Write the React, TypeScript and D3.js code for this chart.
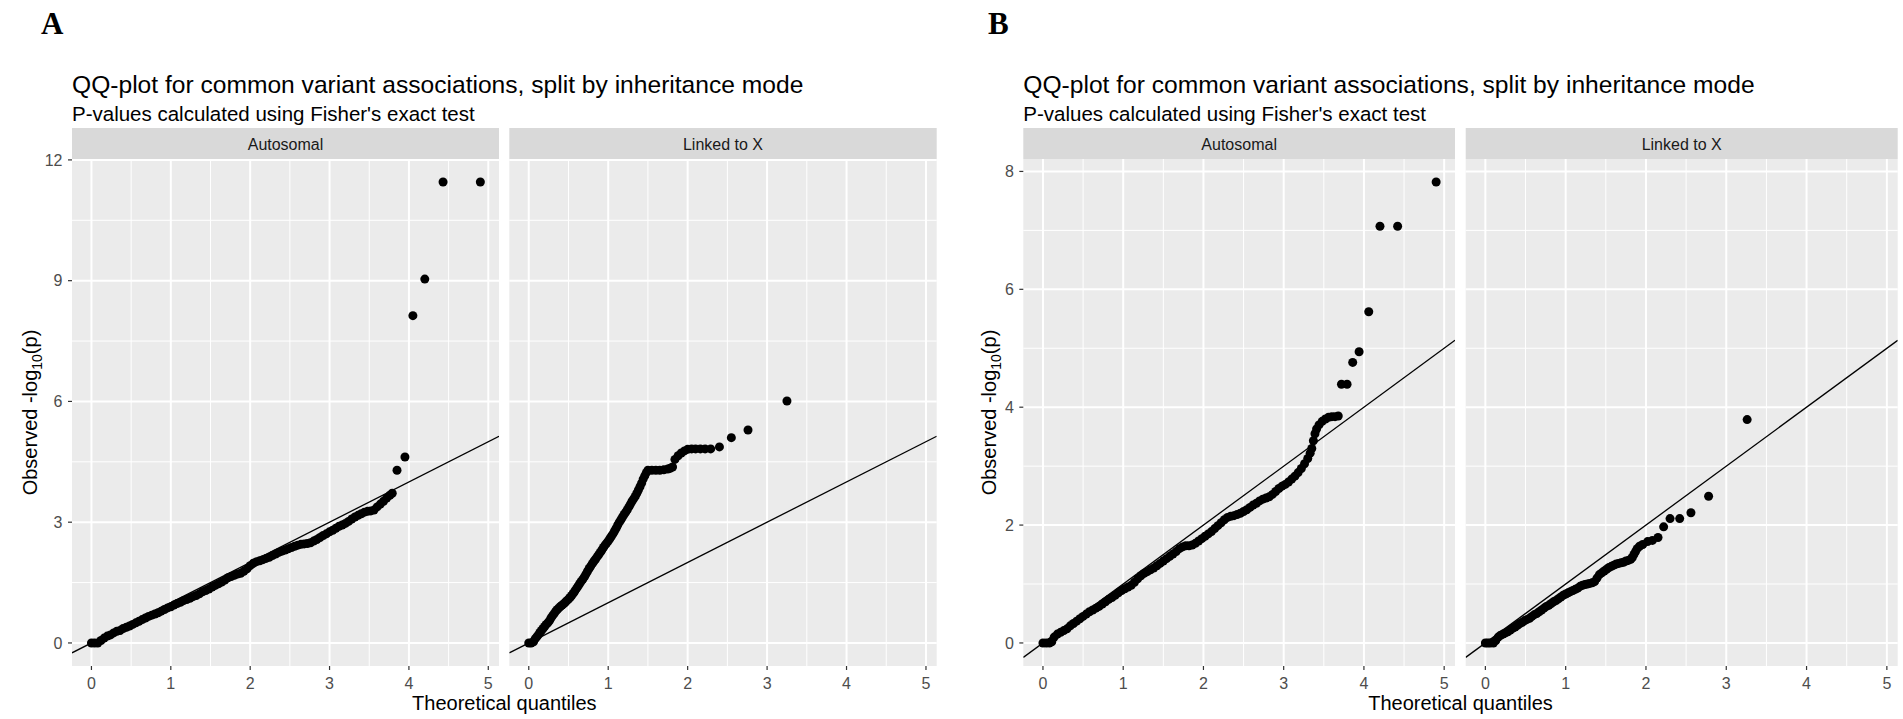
import React from 'react';
import * as d3 from 'd3';

// facet strips
const facetNames = ['Autosomal', 'Linked to X'];

// shared x axis (theoretical quantiles)
const xTicks = [0, 1, 2, 3, 4, 5];
const xMinor = [0.5, 1.5, 2.5, 3.5, 4.5];
const xDomain: [number, number] = [-0.245, 5.135];

// panel A y axis
const yTicksA = [0, 3, 6, 9, 12];
const yMinorA = [1.5, 4.5, 7.5, 10.5];
const yDomainA: [number, number] = [-0.5725, 12.0225];

// panel B y axis
const yTicksB = [0, 2, 4, 6, 8];
const yMinorB = [1, 3, 5, 7];
const yDomainB: [number, number] = [-0.391, 8.211];

// [theoretical, observed]
const autosomalA: [number, number][] = [
  [0, 0], [0.04, 0], [0.08, 0], [0.12, 0.06], [0.16, 0.12], [0.2, 0.17], [0.24, 0.2], [0.28, 0.25],
  [0.32, 0.29], [0.36, 0.31], [0.4, 0.36], [0.44, 0.39], [0.48, 0.42], [0.52, 0.46], [0.56, 0.5],
  [0.6, 0.54], [0.64, 0.58], [0.68, 0.62], [0.72, 0.66], [0.76, 0.69], [0.8, 0.72], [0.84, 0.75],
  [0.88, 0.79], [0.92, 0.83], [0.96, 0.87], [1.0, 0.9], [1.04, 0.94], [1.08, 0.98], [1.12, 1.01],
  [1.16, 1.05], [1.2, 1.08], [1.24, 1.11], [1.28, 1.15], [1.32, 1.18], [1.36, 1.22], [1.4, 1.27],
  [1.44, 1.3], [1.48, 1.34], [1.52, 1.39], [1.56, 1.43], [1.6, 1.47], [1.64, 1.51], [1.68, 1.56],
  [1.72, 1.62], [1.76, 1.65], [1.8, 1.68], [1.84, 1.71], [1.88, 1.73], [1.92, 1.78], [1.96, 1.84],
  [2.0, 1.92], [2.04, 1.98], [2.08, 2.02], [2.12, 2.04], [2.16, 2.07], [2.2, 2.1], [2.24, 2.13],
  [2.28, 2.17], [2.32, 2.21], [2.36, 2.25], [2.4, 2.28], [2.44, 2.31], [2.48, 2.34], [2.52, 2.37],
  [2.56, 2.4], [2.6, 2.43], [2.64, 2.45], [2.68, 2.46], [2.72, 2.47], [2.76, 2.49], [2.8, 2.53],
  [2.84, 2.57], [2.88, 2.62], [2.92, 2.67], [2.96, 2.71], [3.0, 2.76], [3.04, 2.8], [3.08, 2.85],
  [3.12, 2.9], [3.16, 2.93], [3.2, 2.97], [3.24, 3.02], [3.28, 3.08], [3.32, 3.13], [3.36, 3.17],
  [3.4, 3.21], [3.44, 3.25], [3.48, 3.27], [3.52, 3.28], [3.56, 3.3], [3.6, 3.38], [3.64, 3.45],
  [3.68, 3.52], [3.72, 3.6], [3.76, 3.67], [3.79, 3.72],
  [3.85, 4.29], [3.95, 4.62], [4.05, 8.13], [4.2, 9.04], [4.43, 11.45], [4.9, 11.45],
];

const linkedXA: [number, number][] = [
  [0, 0], [0.03, 0], [0.06, 0.03], [0.08, 0.1], [0.1, 0.15], [0.12, 0.2], [0.14, 0.26], [0.16, 0.31],
  [0.18, 0.36], [0.2, 0.41], [0.22, 0.46], [0.24, 0.5], [0.26, 0.55], [0.28, 0.62], [0.3, 0.68],
  [0.32, 0.73], [0.34, 0.79], [0.36, 0.83], [0.38, 0.87], [0.4, 0.91], [0.42, 0.94], [0.44, 0.97],
  [0.46, 1.01], [0.48, 1.05], [0.5, 1.09], [0.52, 1.13], [0.54, 1.18], [0.56, 1.23], [0.58, 1.29],
  [0.6, 1.35], [0.62, 1.41], [0.64, 1.47], [0.66, 1.53], [0.68, 1.58], [0.7, 1.64], [0.72, 1.71],
  [0.74, 1.78], [0.76, 1.85], [0.78, 1.91], [0.8, 1.97], [0.82, 2.03], [0.84, 2.08], [0.86, 2.14],
  [0.88, 2.19], [0.9, 2.25], [0.92, 2.31], [0.94, 2.37], [0.96, 2.43], [0.98, 2.48], [1.0, 2.53],
  [1.02, 2.59], [1.04, 2.65], [1.06, 2.71], [1.08, 2.78], [1.1, 2.85], [1.12, 2.93], [1.14, 3.0],
  [1.16, 3.06], [1.18, 3.13], [1.2, 3.19], [1.22, 3.25], [1.24, 3.31], [1.26, 3.38], [1.28, 3.45],
  [1.3, 3.52], [1.32, 3.58], [1.34, 3.64], [1.36, 3.72], [1.38, 3.8], [1.4, 3.88], [1.42, 3.97],
  [1.44, 4.07], [1.46, 4.15], [1.48, 4.23], [1.5, 4.29], [1.55, 4.29], [1.6, 4.29], [1.65, 4.29],
  [1.7, 4.3], [1.75, 4.32], [1.78, 4.34], [1.81, 4.37], [1.84, 4.56], [1.88, 4.65], [1.92, 4.72],
  [1.96, 4.77], [2.0, 4.81], [2.05, 4.82], [2.1, 4.82], [2.16, 4.82], [2.22, 4.82], [2.29, 4.82],
  [2.4, 4.87], [2.55, 5.1], [2.76, 5.29], [3.25, 6.01],
];

const autosomalB: [number, number][] = [
  [0, 0], [0.04, 0], [0.08, 0], [0.11, 0.02], [0.14, 0.1], [0.18, 0.15], [0.22, 0.18], [0.26, 0.21],
  [0.3, 0.24], [0.34, 0.29], [0.38, 0.33], [0.42, 0.37], [0.46, 0.41], [0.5, 0.45], [0.54, 0.49],
  [0.58, 0.53], [0.62, 0.56], [0.66, 0.59], [0.7, 0.62], [0.74, 0.66], [0.78, 0.7], [0.82, 0.74],
  [0.86, 0.77], [0.9, 0.81], [0.94, 0.85], [0.98, 0.89], [1.02, 0.92], [1.06, 0.95], [1.1, 0.98],
  [1.14, 1.03], [1.18, 1.09], [1.22, 1.14], [1.26, 1.18], [1.3, 1.21], [1.34, 1.24], [1.38, 1.27],
  [1.42, 1.31], [1.46, 1.35], [1.5, 1.39], [1.54, 1.43], [1.58, 1.47], [1.62, 1.51], [1.66, 1.55],
  [1.7, 1.6], [1.74, 1.63], [1.78, 1.65], [1.82, 1.65], [1.86, 1.66], [1.9, 1.69], [1.94, 1.73],
  [1.98, 1.77], [2.02, 1.81], [2.06, 1.85], [2.1, 1.89], [2.14, 1.94], [2.18, 1.99], [2.22, 2.04],
  [2.26, 2.09], [2.3, 2.13], [2.34, 2.15], [2.38, 2.16], [2.42, 2.18], [2.46, 2.2], [2.5, 2.23],
  [2.54, 2.26], [2.58, 2.3], [2.62, 2.34], [2.66, 2.37], [2.7, 2.41], [2.74, 2.44], [2.78, 2.46],
  [2.82, 2.48], [2.86, 2.52], [2.9, 2.57], [2.94, 2.62], [2.98, 2.66], [3.02, 2.69], [3.06, 2.73],
  [3.1, 2.78], [3.14, 2.83], [3.18, 2.89], [3.22, 2.96], [3.26, 3.04], [3.3, 3.13], [3.33, 3.22],
  [3.35, 3.3], [3.37, 3.43], [3.39, 3.55], [3.41, 3.63], [3.44, 3.7], [3.48, 3.76], [3.52, 3.8],
  [3.56, 3.83], [3.6, 3.84], [3.64, 3.84], [3.68, 3.85],
  [3.72, 4.39], [3.79, 4.39], [3.86, 4.76], [3.94, 4.94], [4.06, 5.62], [4.2, 7.07], [4.42, 7.07],
  [4.9, 7.82],
];

const linkedXB: [number, number][] = [
  [0, 0], [0.03, 0], [0.06, 0], [0.1, 0], [0.13, 0.04], [0.16, 0.1], [0.19, 0.13], [0.22, 0.15],
  [0.25, 0.17], [0.28, 0.19], [0.31, 0.22], [0.34, 0.25], [0.37, 0.27], [0.4, 0.3], [0.43, 0.33],
  [0.46, 0.35], [0.49, 0.38], [0.52, 0.4], [0.55, 0.42], [0.58, 0.45], [0.61, 0.48], [0.64, 0.5],
  [0.67, 0.53], [0.7, 0.56], [0.73, 0.59], [0.76, 0.62], [0.79, 0.64], [0.82, 0.67], [0.85, 0.7],
  [0.88, 0.72], [0.91, 0.75], [0.94, 0.78], [0.97, 0.81], [1.0, 0.83], [1.03, 0.85], [1.06, 0.87],
  [1.09, 0.89], [1.12, 0.91], [1.15, 0.93], [1.18, 0.96], [1.21, 0.98], [1.24, 0.99], [1.27, 1.0],
  [1.3, 1.01], [1.33, 1.02], [1.36, 1.04], [1.39, 1.1], [1.42, 1.16], [1.45, 1.19], [1.48, 1.22],
  [1.51, 1.25], [1.54, 1.28], [1.57, 1.3], [1.6, 1.32], [1.63, 1.34], [1.66, 1.35], [1.69, 1.36],
  [1.72, 1.37], [1.75, 1.39], [1.78, 1.4], [1.81, 1.42], [1.83, 1.45], [1.85, 1.5], [1.87, 1.55],
  [1.89, 1.6], [1.92, 1.64], [1.96, 1.67], [2.02, 1.72], [2.08, 1.74], [2.15, 1.79], [2.22, 1.97],
  [2.3, 2.11], [2.42, 2.11], [2.56, 2.21], [2.78, 2.49], [3.26, 3.79],
];

const FONT = '"Liberation Sans", Arial, Helvetica, sans-serif';
const panelTop = 159;
const panelBottom = 666;
const stripTop = 128;

type ChartProps = {
  tag: string;
  tagX: number;
  facets: [number, number][];
  yDomain: [number, number];
  yTicks: number[];
  yMinor: number[];
  yTitleX: number;
  series: [number, number][][];
  id: string;
};

function QQChart({ tag, tagX, facets, yDomain, yTicks, yMinor, yTitleX, series, id }: ChartProps) {
  const y = d3.scaleLinear().domain(yDomain).range([panelBottom, panelTop]);
  const left = facets[0][0];
  const right = facets[facets.length - 1][1];

  return (
    <g>
      <text x={tagX} y={34} fontFamily='"Liberation Serif", "Times New Roman", serif'
        fontWeight="bold" fontSize={31} fill="#000">{tag}</text>
      <text x={left} y={93} fontFamily={FONT} fontSize={24.6} fill="#000">
        QQ-plot for common variant associations, split by inheritance mode
      </text>
      <text x={left} y={121} fontFamily={FONT} fontSize={20.5} fill="#000">
        P-values calculated using Fisher's exact test
      </text>

      {facets.map(([x0, x1], fi) => {
        const x = d3.scaleLinear().domain(xDomain).range([x0, x1]);
        const line = d3.line<[number, number]>().x(d => x(d[0])).y(d => y(d[1]));
        const clip = `${id}-clip-${fi}`;
        return (
          <g key={fi}>
            <defs>
              <clipPath id={clip}>
                <rect x={x0} y={panelTop} width={x1 - x0} height={panelBottom - panelTop} />
              </clipPath>
            </defs>
            <rect x={x0} y={stripTop} width={x1 - x0} height={panelTop - stripTop} fill="#d9d9d9" />
            <text x={(x0 + x1) / 2} y={150} textAnchor="middle" fontFamily={FONT} fontSize={16}
              fill="#1a1a1a">{facetNames[fi]}</text>
            <rect x={x0} y={panelTop} width={x1 - x0} height={panelBottom - panelTop} fill="#ebebeb" />
            {yMinor.map(v => (
              <line key={'ym' + v} x1={x0} x2={x1} y1={y(v)} y2={y(v)} stroke="#fff" strokeWidth={1} />
            ))}
            {xMinor.map(v => (
              <line key={'xm' + v} x1={x(v)} x2={x(v)} y1={panelTop} y2={panelBottom} stroke="#fff" strokeWidth={1} />
            ))}
            {yTicks.map(v => (
              <line key={'y' + v} x1={x0} x2={x1} y1={y(v)} y2={y(v)} stroke="#fff" strokeWidth={2} />
            ))}
            {xTicks.map(v => (
              <line key={'x' + v} x1={x(v)} x2={x(v)} y1={panelTop} y2={panelBottom} stroke="#fff" strokeWidth={2} />
            ))}
            <g clipPath={`url(#${clip})`}>
              {series[fi].map((d, i) => (
                <circle key={i} cx={x(d[0])} cy={y(d[1])} r={4.5} fill="#000" />
              ))}
              <path d={line([[xDomain[0], xDomain[0]], [xDomain[1], xDomain[1]]]) || ''}
                stroke="#000" strokeWidth={1.3} fill="none" />
            </g>
            {xTicks.map(v => (
              <g key={'xt' + v}>
                <line x1={x(v)} x2={x(v)} y1={panelBottom} y2={panelBottom + 4} stroke="#333" strokeWidth={1.2} />
                <text x={x(v)} y={689} textAnchor="middle" fontFamily={FONT} fontSize={16} fill="#4d4d4d">{v}</text>
              </g>
            ))}
          </g>
        );
      })}

      {yTicks.map(v => (
        <g key={'yt' + v}>
          <line x1={left - 4} x2={left} y1={y(v)} y2={y(v)} stroke="#333" strokeWidth={1.2} />
          <text x={left - 9.5} y={y(v)} dy="0.35em" textAnchor="end" fontFamily={FONT} fontSize={16}
            fill="#4d4d4d">{v}</text>
        </g>
      ))}

      <text x={(left + right) / 2} y={710} textAnchor="middle" fontFamily={FONT} fontSize={20} fill="#000">
        Theoretical quantiles
      </text>
      <text transform={`translate(${yTitleX},${(panelTop + panelBottom) / 2}) rotate(-90)`}
        textAnchor="middle" fontFamily={FONT} fontSize={20} fill="#000" dy="0.35em">
        <tspan>Observed -log</tspan>
        <tspan fontSize={14} dy={5}>10</tspan>
        <tspan dy={-5}>(p)</tspan>
      </text>
    </g>
  );
}

export default function App() {
  return (
    <svg width={1903} height={719} style={{ position: 'absolute', left: 0, top: 0, background: '#fff' }}>
      <QQChart id="a" tag="A" tagX={41} facets={[[72, 499], [509.3, 936.7]]}
        yDomain={yDomainA} yTicks={yTicksA} yMinor={yMinorA} yTitleX={30}
        series={[autosomalA, linkedXA]} />
      <QQChart id="b" tag="B" tagX={988} facets={[[1023.3, 1455], [1465.7, 1897.7]]}
        yDomain={yDomainB} yTicks={yTicksB} yMinor={yMinorB} yTitleX={989}
        series={[autosomalB, linkedXB]} />
    </svg>
  );
}
